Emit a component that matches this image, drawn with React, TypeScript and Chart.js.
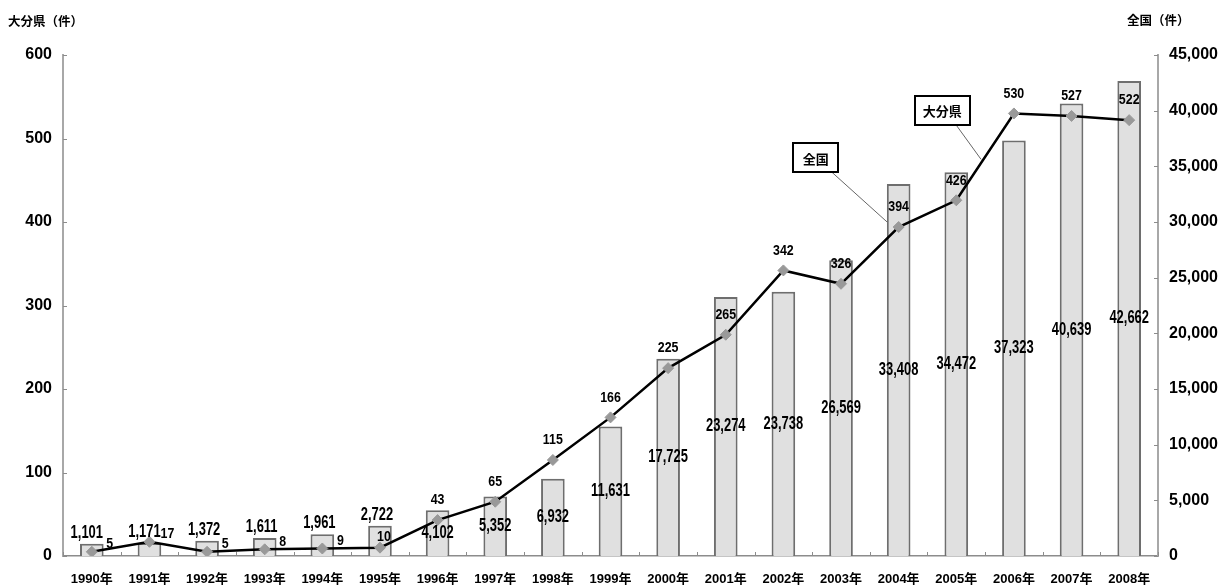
import { useEffect, useRef } from "react";
import { Chart, registerables } from "chart.js";

Chart.register(...registerables);

// Years on the category axis
const years = [
  "1990年", "1991年", "1992年", "1993年", "1994年", "1995年", "1996年",
  "1997年", "1998年", "1999年", "2000年", "2001年", "2002年", "2003年",
  "2004年", "2005年", "2006年", "2007年", "2008年",
];

// 全国 (bars, right axis)
const nationalCases = [
  1101, 1171, 1372, 1611, 1961, 2722, 4102, 5352, 6932, 11631, 17725,
  23274, 23738, 26569, 33408, 34472, 37323, 40639, 42662,
];

// 大分県 (line, left axis)
const oitaCases = [
  5, 17, 5, 8, 9, 10, 43, 65, 115, 166, 225, 265, 342, 326, 394, 426, 530,
  527, 522,
];

const seriesNames = ["全国", "大分県"];
const leftAxisTitle = "大分県（件）";
const rightAxisTitle = "全国（件）";

const leftMax = 600;
const leftStep = 100;
const rightMax = 45000;
const rightStep = 5000;

const NUM_FONT = "'Liberation Sans', Arial, 'Noto Sans CJK JP', sans-serif";
const CJK_FONT = "'Noto Sans CJK JP', 'Noto Sans CJK SC', sans-serif";

const fmt = (v: number) => v.toLocaleString("en-US");

// Narrow numerals: the text is squeezed horizontally around its anchor.
function narrowText(
  ctx: CanvasRenderingContext2D,
  text: string,
  x: number,
  y: number,
  squeeze: number
) {
  ctx.save();
  ctx.translate(x, y);
  ctx.scale(squeeze, 1);
  ctx.fillText(text, 0, 0);
  ctx.restore();
}

// Draws value labels, inside tick marks, axis titles and the callout boxes.
const overlayPlugin = {
  id: "overlay",
  afterDatasetsDraw(chart: any) {
    const ctx: CanvasRenderingContext2D = chart.ctx;
    const area = chart.chartArea;
    const xs = chart.scales.x;
    const yl = chart.scales.y;
    const yr = chart.scales.y1;
    ctx.save();

    // inward-pointing tick marks
    ctx.strokeStyle = "#8c8c8c";
    ctx.lineWidth = 1;
    yl.ticks.forEach((_: any, i: number) => {
      const py = Math.round(yl.getPixelForTick(i)) + 0.5;
      ctx.beginPath();
      ctx.moveTo(area.left, py);
      ctx.lineTo(area.left + 4, py);
      ctx.stroke();
    });
    yr.ticks.forEach((_: any, i: number) => {
      const py = Math.round(yr.getPixelForTick(i)) + 0.5;
      ctx.beginPath();
      ctx.moveTo(area.right, py);
      ctx.lineTo(area.right - 4, py);
      ctx.stroke();
    });
    for (let i = 0; i <= years.length; i++) {
      const px = Math.round(xs.getPixelForValue(i - 0.5)) + 0.5;
      ctx.beginPath();
      ctx.moveTo(px, area.bottom);
      ctx.lineTo(px, area.bottom - 4);
      ctx.stroke();
    }

    // bar value labels
    const barMeta = chart.getDatasetMeta(0);
    ctx.fillStyle = "#000";
    ctx.textAlign = "center";
    ctx.textBaseline = "middle";
    ctx.font = `bold 17.5px ${NUM_FONT}`;
    barMeta.data.forEach((bar: any, i: number) => {
      const v = nationalCases[i];
      if (i <= 5) {
        const dx = i < 2 ? -5 : -3;
        narrowText(ctx, fmt(v), bar.x + dx, bar.y - 11, 0.74);
      } else {
        narrowText(ctx, fmt(v), bar.x, (bar.y + bar.base) / 2, 0.74);
      }
    });

    // line value labels
    const lineMeta = chart.getDatasetMeta(1);
    ctx.font = `bold 15.5px ${NUM_FONT}`;
    lineMeta.data.forEach((pt: any, i: number) => {
      const v = oitaCases[i];
      if (i < 5) {
        narrowText(ctx, fmt(v), pt.x + 18, pt.y - 8, 0.8);
      } else if (i === 5) {
        narrowText(ctx, fmt(v), pt.x + 4, pt.y - 11, 0.8);
      } else {
        narrowText(ctx, fmt(v), pt.x, pt.y - 20, 0.8);
      }
    });

    // callouts naming each series
    const callout = (
      text: string,
      cx: number,
      cy: number,
      w: number,
      lx0: number,
      lx1: number,
      ly1: number
    ) => {
      const h = 29;
      const left = Math.round(cx - w / 2);
      const top = Math.round(cy - h / 2);
      ctx.strokeStyle = "#666";
      ctx.lineWidth = 1;
      ctx.beginPath();
      ctx.moveTo(lx0, top + h);
      ctx.lineTo(lx1, ly1);
      ctx.stroke();
      ctx.fillStyle = "#fff";
      ctx.fillRect(left, top, w, h);
      ctx.strokeStyle = "#000";
      ctx.lineWidth = 2;
      ctx.strokeRect(left, top, w, h);
      ctx.fillStyle = "#000";
      ctx.font = `bold 13px ${CJK_FONT}`;
      ctx.textAlign = "center";
      ctx.textBaseline = "middle";
      ctx.fillText(text, cx, cy + 1);
    };
    const nCx = xs.getPixelForValue(12.56);
    callout(
      seriesNames[0],
      nCx,
      yr.getPixelForValue(35760),
      45,
      nCx + 16,
      xs.getPixelForValue(13.8),
      yr.getPixelForValue(30000)
    );
    const oCx = xs.getPixelForValue(14.755);
    callout(
      seriesNames[1],
      oCx,
      yl.getPixelForValue(533.8),
      55,
      oCx + 14,
      xs.getPixelForValue(15.43),
      yl.getPixelForValue(475)
    );

    // axis titles
    ctx.fillStyle = "#000";
    ctx.font = `bold 12.5px ${CJK_FONT}`;
    ctx.textAlign = "left";
    ctx.textBaseline = "middle";
    ctx.fillText(leftAxisTitle, 8, 21);
    ctx.fillText(rightAxisTitle, area.right - 31, 20);

    ctx.restore();
  },
};

export default function App() {
  const canvasRef = useRef<HTMLCanvasElement | null>(null);

  useEffect(() => {
    const canvas = canvasRef.current;
    if (!canvas) return;
    const chart = new Chart(canvas, {
      type: "bar",
      data: {
        labels: years,
        datasets: [
          {
            type: "bar",
            label: seriesNames[0],
            data: nationalCases,
            yAxisID: "y1",
            backgroundColor: "#e0e0e0",
            borderColor: "#6e6e6e",
            borderWidth: 2,
            categoryPercentage: 1,
            barPercentage: 0.41,
            order: 2,
          },
          {
            type: "line",
            label: seriesNames[1],
            data: oitaCases,
            yAxisID: "y",
            borderColor: "#000",
            borderWidth: 2.5,
            pointStyle: "rectRot",
            pointRadius: 5.5,
            pointBackgroundColor: "#999",
            pointBorderColor: "#999",
            pointBorderWidth: 1,
            tension: 0,
            order: 1,
          },
        ],
      },
      options: {
        responsive: false,
        maintainAspectRatio: false,
        animation: false,
        layout: { padding: { top: 55, left: 0, right: 0, bottom: 0 } },
        plugins: {
          legend: { display: false },
          tooltip: { enabled: false },
        },
        scales: {
          x: {
            offset: true,
            grid: { display: false, drawTicks: false },
            border: { display: true, color: "#8c8c8c", width: 1.5 },
            ticks: {
              color: "#000",
              padding: 16,
              maxRotation: 0,
              autoSkip: false,
              font: { family: NUM_FONT, size: 13, weight: "bold" },
            },
            afterFit: (s: any) => {
              s.height = 29;
            },
          },
          y: {
            position: "left",
            min: 0,
            max: leftMax,
            grid: { display: false, drawTicks: false },
            border: { display: true, color: "#a8a8a8", width: 2 },
            ticks: {
              stepSize: leftStep,
              color: "#000",
              padding: 11,
              font: { family: NUM_FONT, size: 16, weight: "bold" },
            },
            afterFit: (s: any) => {
              s.width = 63;
            },
          },
          y1: {
            position: "right",
            min: 0,
            max: rightMax,
            grid: { display: false, drawTicks: false },
            border: { display: true, color: "#a8a8a8", width: 2 },
            ticks: {
              stepSize: rightStep,
              color: "#000",
              padding: 11,
              font: { family: NUM_FONT, size: 16, weight: "bold" },
              callback: (v: any) => fmt(Number(v)),
            },
            afterFit: (s: any) => {
              s.width = 68;
            },
          },
        },
      },
      plugins: [overlayPlugin],
    });
    return () => chart.destroy();
  }, []);

  return (
    <div
      style={{
        position: "absolute",
        left: 0,
        top: 0,
        width: 1226,
        height: 585,
        background: "#fff",
      }}
    >
      <canvas ref={canvasRef} width={1226} height={585} />
    </div>
  );
}
